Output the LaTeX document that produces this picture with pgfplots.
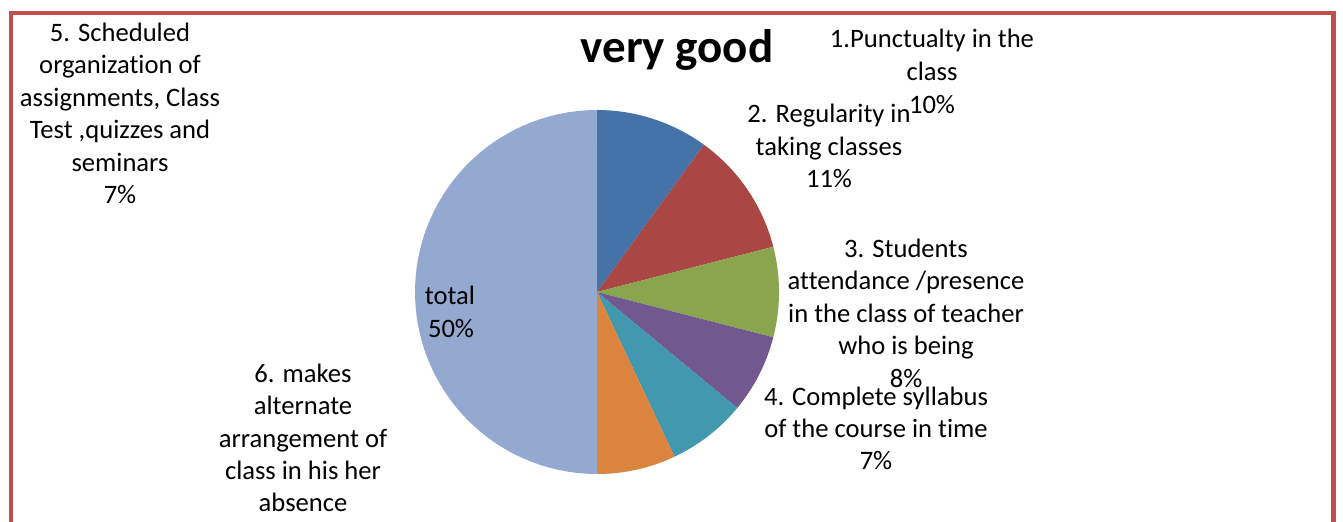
\documentclass[border=0pt]{standalone}
\usepackage{pgfplots}
\pgfplotsset{compat=1.18}
\usepackage{fontspec}
\setmainfont{Carlito}[Ligatures=NoCommon]
\definecolor{cBlue}{RGB}{69,114,167}
\definecolor{cRed}{RGB}{170,70,67}
\definecolor{cGreen}{RGB}{137,165,78}
\definecolor{cPurple}{RGB}{113,88,143}
\definecolor{cTeal}{RGB}{65,152,175}
\definecolor{cOrange}{RGB}{219,132,61}
\definecolor{cLight}{RGB}{147,169,207}
\definecolor{frameRed}{RGB}{192,80,77}
% pie shares (percent): 10, 11, 8, 7, 7, 7, 50 -> cumulative domains below
\newcommand{\pieslice}[3]{%
  \addplot[fill=#1, draw=none, domain=#2:#3, samples=60, variable=\t]
    ({597+182*sin(3.6*\t)},{292-182*cos(3.6*\t)}) -- (axis cs:597,292) -- cycle;}
\newcommand{\lbl}[3]{\node[anchor=base, inner sep=0pt, font=\fontsize{13.3}{16}\selectfont] at (axis cs:#1,#2) {#3};}
\begin{document}
\begin{tikzpicture}
\begin{axis}[
  scale only axis, width=671.5pt, height=260.5pt,
  xmin=0, xmax=1343, ymin=0, ymax=521, y dir=reverse,
  hide axis, clip=true]
\pieslice{cBlue}{0}{10}
\pieslice{cRed}{10}{21}
\pieslice{cGreen}{21}{29}
\pieslice{cPurple}{29}{36}
\pieslice{cTeal}{36}{43}
\pieslice{cOrange}{43}{50}
\pieslice{cLight}{50}{100}
\draw[frameRed, line width=2.3pt] (axis cs:11,560) -- (axis cs:11,13) -- (axis cs:1333.5,13) -- (axis cs:1333.5,560);
\node[anchor=base, inner sep=0pt, font=\fontsize{23.5}{28}\selectfont\bfseries] at (axis cs:677,62) {very good};
% label 1
\lbl{932}{47}{1.Punctualty in the}
\lbl{932}{80}{class}
\lbl{932}{113}{10\%}
% label 2
\lbl{829}{122}{2. Regularity in}
\lbl{829}{155}{taking classes}
\lbl{829}{187}{11\%}
% label 3
\lbl{906}{257}{3. Students}
\lbl{906}{289.5}{attendance /presence}
\lbl{906}{322}{in the class of teacher}
\lbl{906}{354.5}{who is being}
\lbl{906}{387}{8\%}
% label 4
\lbl{876}{405}{4. Complete syllabus}
\lbl{876}{437}{of the course in time}
\lbl{876}{469}{7\%}
% label 5
\lbl{120}{41}{5. Scheduled}
\lbl{120}{73.5}{organization of}
\lbl{120}{106}{assignments, Class}
\lbl{120}{138.5}{Test ,quizzes and}
\lbl{120}{171}{seminars}
\lbl{120}{203.5}{7\%}
% label 6
\lbl{303}{382}{6. makes}
\lbl{303}{414.5}{alternate}
\lbl{303}{447}{arrangement of}
\lbl{303}{479}{class in his her}
\lbl{303}{511.5}{absence}
% total
\lbl{450}{304}{total}
\lbl{451}{337}{50\%}
\end{axis}
\pgfresetboundingbox
\path (current axis.south west) rectangle (current axis.north east);
\end{tikzpicture}
\end{document}
